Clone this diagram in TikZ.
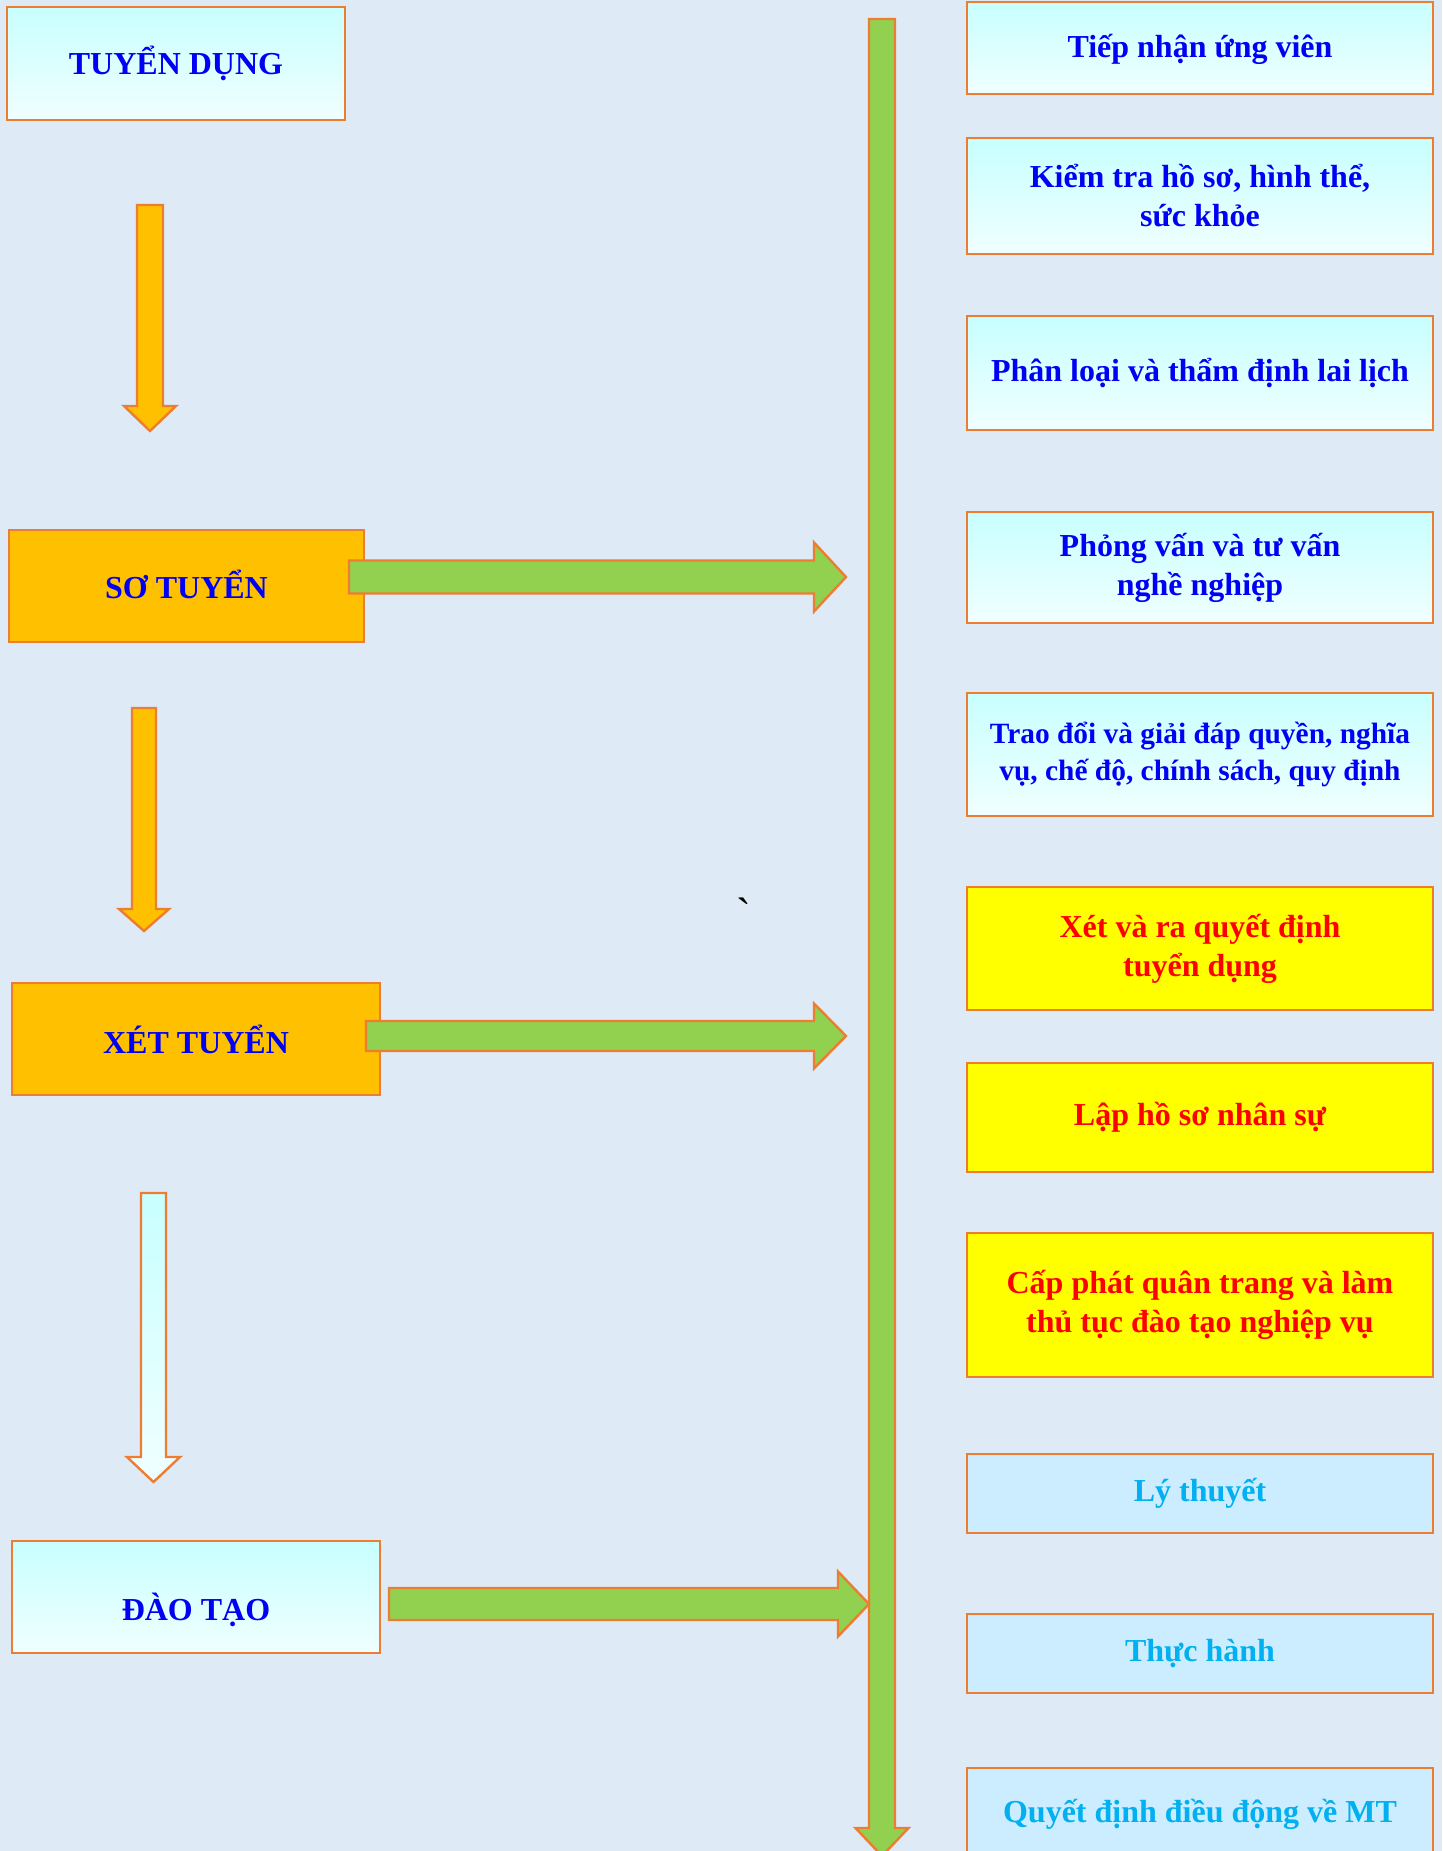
\documentclass[tikz,border=0pt]{standalone}
\usepackage{fontspec}
\setmainfont{Liberation Serif}
\usetikzlibrary{calc}

\definecolor{bgblue}{RGB}{222,234,246}
\definecolor{edgeorange}{RGB}{237,125,49}
\definecolor{arrowgreen}{RGB}{146,208,80}
\definecolor{boxorange}{RGB}{255,192,0}
\definecolor{boxyellow}{RGB}{255,255,0}
\definecolor{cyantop}{RGB}{200,255,255}
\definecolor{cyanbot}{RGB}{240,255,255}
\definecolor{paleblue}{RGB}{204,236,255}
\definecolor{textblue}{RGB}{0,0,245}
\definecolor{textred}{RGB}{255,0,0}
\definecolor{skyblue}{RGB}{0,176,240}

% block arrows: style, start, tip, shaft half width, head half width, head length
\newcommand\downblock[6]{\draw[#1] ($(#2)+(-#4,0)$) -- ($(#3)+(-#4,-#6)$) -- ($(#3)+(-#5,-#6)$) -- (#3) -- ($(#3)+(#5,-#6)$) -- ($(#3)+(#4,-#6)$) -- ($(#2)+(#4,0)$) -- cycle;}
\newcommand\rightblock[6]{\draw[#1] ($(#2)+(0,-#4)$) -- ($(#3)+(-#6,-#4)$) -- ($(#3)+(-#6,-#5)$) -- (#3) -- ($(#3)+(-#6,#5)$) -- ($(#3)+(-#6,#4)$) -- ($(#2)+(0,#4)$) -- cycle;}

\begin{document}
\begin{tikzpicture}[x=0.5pt,y=-0.5pt,
  box/.style={draw=edgeorange,line width=1.2pt,font=\fontsize{16}{19.5}\selectfont\bfseries,align=center,inner sep=0pt},
  cyanbox/.style={box,top color=cyantop,bottom color=cyanbot,text=textblue},
  orangebox/.style={box,fill=boxorange,text=textblue},
  yellowbox/.style={box,fill=boxyellow,text=textred},
  lightbox/.style={box,fill=paleblue,text=skyblue},
  greenarrow/.style={draw=edgeorange,line width=1.2pt,fill=arrowgreen},
  orangearrow/.style={draw=edgeorange,line width=1.2pt,fill=boxorange},
  palearrow/.style={draw=edgeorange,line width=1.2pt,top color=cyantop,bottom color=cyanbot}]
\useasboundingbox (0,0) rectangle (1442,1851);
\clip (0,0) rectangle (1442,1851);
\fill[bgblue] (0,0) rectangle (1442,1851);

% left column
\node[cyanbox,minimum width=169pt,minimum height=56.5pt] (tuyen) at (176,63.5) {TUYỂN DỤNG};
\node[orangebox,minimum width=177.5pt,minimum height=56pt,text height=13pt] (so) at (186.5,586) {SƠ TUYỂN};
\node[orangebox,minimum width=184pt,minimum height=56pt] (xet) at (196,1039) {XÉT TUYỂN};
\node[cyanbox,minimum width=184pt,minimum height=56pt,text height=27pt] (dao) at (196,1597) {ĐÀO TẠO};

% right column
\node[cyanbox,minimum width=233pt,minimum height=46pt,text height=13.5pt] (r1) at (1200,48) {Tiếp nhận ứng viên};
\node[cyanbox,minimum width=233pt,minimum height=58pt] (r2) at (1200,196) {Kiểm tra hồ sơ, hình thể,\\ sức khỏe};
\node[cyanbox,minimum width=233pt,minimum height=57pt] (r3) at (1200,373) {Phân loại và thẩm định lai lịch};
\node[cyanbox,minimum width=233pt,minimum height=55.5pt] (r4) at (1200,567.5) {Phỏng vấn và tư vấn\\ nghề nghiệp};
\node[cyanbox,minimum width=233pt,minimum height=61.5pt,font=\fontsize{14.7}{18.8}\selectfont\bfseries] (r5) at (1200,754.5) {Trao đổi và giải đáp quyền, nghĩa\\ vụ, chế độ, chính sách, quy định};
\node[yellowbox,minimum width=233pt,minimum height=61.5pt] (r6) at (1200,948.5) {Xét và ra quyết định\\ tuyển dụng};
\node[yellowbox,minimum width=233pt,minimum height=54.5pt] (r7) at (1200,1117.5) {Lập hồ sơ nhân sự};
\node[yellowbox,minimum width=233pt,minimum height=72pt] (r8) at (1200,1305) {Cấp phát quân trang và làm\\ thủ tục đào tạo nghiệp vụ};
\node[lightbox,minimum width=233pt,minimum height=39.5pt] (r9) at (1200,1493.5) {Lý thuyết};
\node[lightbox,minimum width=233pt,minimum height=39.5pt] (r10) at (1200,1653.5) {Thực hành};
\node[lightbox,minimum width=233pt,minimum height=46pt] (r11) at (1200,1814) {Quyết định điều động về MT};

\node[font=\fontsize{22}{22}\selectfont] (tick) at (744,913) {\textasciigrave};

% down arrows between the steps
\coordinate (d1a) at (150,205);
\coordinate (d1b) at (150,431);
\coordinate (d2a) at (144,708);
\coordinate (d2b) at (144,931);
\coordinate (d3a) at (153.5,1193);
\coordinate (d3b) at (153.5,1482);
\downblock{orangearrow}{d1a}{d1b}{13}{26}{25}
\downblock{orangearrow}{d2a}{d2b}{12}{25}{22}
\downblock{palearrow}{d3a}{d3b}{12.5}{26.5}{25}

% long bar
\coordinate (bartop) at (882,19);
\coordinate (barend) at (882,1856);
\downblock{greenarrow}{bartop}{barend}{13}{26.5}{28}

% arrows to the bar
\coordinate (g1a) at (349,577);
\coordinate (g1b) at ($(bartop |- g1a)+(-36,0)$);
\coordinate (g2a) at (366,1036);
\coordinate (g2b) at ($(bartop |- g2a)+(-36,0)$);
\coordinate (g3a) at (389,1604);
\coordinate (g3b) at ($(bartop |- g3a)+(-13,0)$);
\rightblock{greenarrow}{g1a}{g1b}{16.5}{34.5}{32}
\rightblock{greenarrow}{g2a}{g2b}{15}{32.5}{32}
\rightblock{greenarrow}{g3a}{g3b}{16}{32.5}{31}
\end{tikzpicture}
\end{document}
